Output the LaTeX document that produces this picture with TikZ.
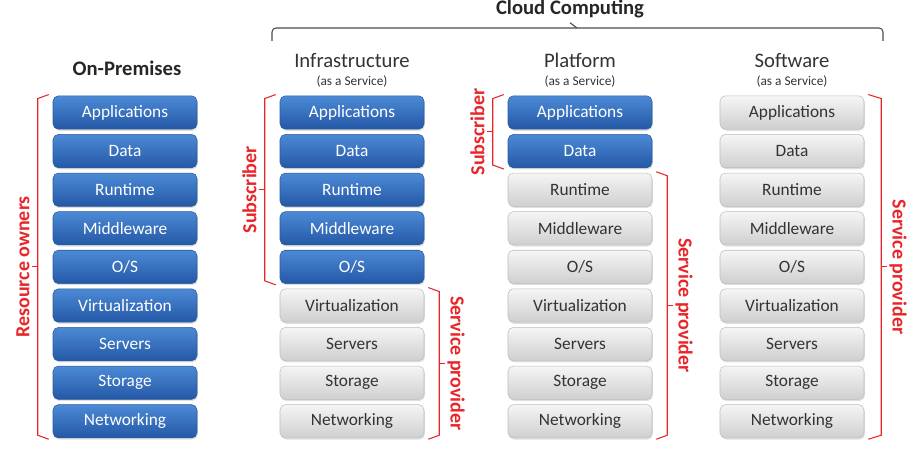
\documentclass[tikz,border=0pt]{standalone}
\usepackage{fontspec}
\setmainfont{Carlito}
\usetikzlibrary{calc,shadows}
\definecolor{ownTop}{HTML}{4C8AD6}
\definecolor{ownBot}{HTML}{2458A6}
\definecolor{ownDraw}{HTML}{2A5B9E}
\definecolor{provTop}{HTML}{F5F5F5}
\definecolor{provBot}{HTML}{CFCFCF}
\definecolor{provDraw}{HTML}{BDBDBD}
\definecolor{braceRed}{HTML}{E8262A}
\definecolor{headText}{HTML}{333333}
\tikzset{
  layer/.style ={rounded corners=4pt, minimum width=108pt, minimum height=25pt, inner sep=0pt,
                 line width=0.4pt, font=\fontsize{13}{15}\selectfont,
                 drop shadow={opacity=0.25, shadow xshift=0.6pt, shadow yshift=-1.2pt}},
  own/.style   ={layer, top color=ownTop, bottom color=ownBot, draw=ownDraw, text=white},
  prov/.style  ={layer, top color=provTop, bottom color=provBot, draw=provDraw, text=headText},
  head/.style  ={font=\fontsize{15.5}{17}\selectfont, text=headText},
  bighead/.style={font=\bfseries\fontsize{15.5}{17}\selectfont, text=black!85},
  aas/.style   ={font=\fontsize{10}{12}\selectfont, text=headText},
  brace/.style ={draw=braceRed, line width=0.8pt},
  who/.style   ={text=braceRed, font=\bfseries\fontsize{15}{17}\selectfont, inner sep=1.5pt},
}

\begin{document}
\begin{tikzpicture}[x=0.75pt, y=-0.75pt]
  \useasboundingbox (0,0) rectangle (909,452);

  % column headings
  \node[bighead] (cloud) at (570,9)  {Cloud Computing};
  \node[bighead] (onh)   at (127,68) {On-Premises};
  \node[head]    (iah)   at (352,60) {Infrastructure};
  \node[aas]             at (352,82) {(as a Service)};
  \node[head]    (pah)   at (580,60) {Platform};
  \node[aas]             at (580,82) {(as a Service)};
  \node[head]    (sah)   at (792,60) {Software};
  \node[aas]             at (792,82) {(as a Service)};

  % the nine layers of each stack
  \foreach \name [count=\i] in {Applications,Data,Runtime,Middleware,O/S,Virtualization,Servers,Storage,Networking} {
    \ifnum\i<6 \def\iastyle{own}\else\def\iastyle{prov}\fi
    \ifnum\i<3 \def\pastyle{own}\else\def\pastyle{prov}\fi
    \node[own]      (on\i) at (125,{112.5+38.6*(\i-1)}) {\name};
    \node[\iastyle] (ia\i) at (352,{112.5+38.6*(\i-1)}) {\name};
    \node[\pastyle] (pa\i) at (580,{112.5+38.6*(\i-1)}) {\name};
    \node[prov]     (sa\i) at (792,{112.5+38.6*(\i-1)}) {\name};
  }

  % bracket over the three service models
  \draw[black!70, line width=0.8pt, rounded corners=3pt] (272,41) -- (272,28) -- (883,28) -- (883,41);
  \draw[black!70, line width=0.8pt] (577,28) -- (cloud.south);

  % on-premises: everything owned
  \draw[brace] ($(on1.north west)+(-4,-1)$) -- ($(on1.north west)+(-15,3)$)
            -- ($(on9.south west)+(-15,-3)$) -- ($(on9.south west)+(-4,1)$);
  \draw[brace] ($(on1.north west)!0.5!(on9.south west)+(-15,0)$) -- ++(-6,0) coordinate (ont);
  \node[who, rotate=90, anchor=south] at (ont) {Resource owners};

  % IaaS
  \draw[brace] ($(ia1.north west)+(-4,-1)$) -- ($(ia1.north west)+(-15,3)$)
            -- ($(ia5.south west)+(-15,-3)$) -- ($(ia5.south west)+(-4,1)$);
  \draw[brace] ($(ia1.north west)!0.5!(ia5.south west)+(-15,0)$) -- ++(-6,0) coordinate (iat);
  \node[who, rotate=90, anchor=south] at (iat) {Subscriber};
  \draw[brace] ($(ia6.north east)+(4,-1)$) -- ($(ia6.north east)+(15,3)$)
            -- ($(ia9.south east)+(15,-3)$) -- ($(ia9.south east)+(4,1)$);
  \draw[brace] ($(ia6.north east)!0.5!(ia9.south east)+(15,0)$) -- ++(6,0) coordinate (iap);
  \node[who, rotate=-90, anchor=south] at (iap) {Service provider};

  % PaaS
  \draw[brace] ($(pa1.north west)+(-4,-1)$) -- ($(pa1.north west)+(-15,3)$)
            -- ($(pa2.south west)+(-15,-3)$) -- ($(pa2.south west)+(-4,1)$);
  \draw[brace] ($(pa1.north west)!0.5!(pa2.south west)+(-15,0)$) -- ++(-6,0) coordinate (pat);
  \node[who, rotate=90, anchor=south] at (pat) {Subscriber};
  \draw[brace] ($(pa3.north east)+(4,-1)$) -- ($(pa3.north east)+(15,3)$)
            -- ($(pa9.south east)+(15,-3)$) -- ($(pa9.south east)+(4,1)$);
  \draw[brace] ($(pa3.north east)!0.5!(pa9.south east)+(15,0)$) -- ++(6,0) coordinate (pap);
  \node[who, rotate=-90, anchor=south] at (pap) {Service provider};

  % SaaS
  \draw[brace] ($(sa1.north east)+(4,-1)$) -- ($(sa1.north east)+(17,3)$)
            -- ($(sa9.south east)+(17,-3)$) -- ($(sa9.south east)+(4,1)$);
  \draw[brace] ($(sa1.north east)!0.5!(sa9.south east)+(17,0)$) -- ++(6,0) coordinate (sap);
  \node[who, rotate=-90, anchor=south] at (sap) {Service provider};
\end{tikzpicture}
\end{document}
